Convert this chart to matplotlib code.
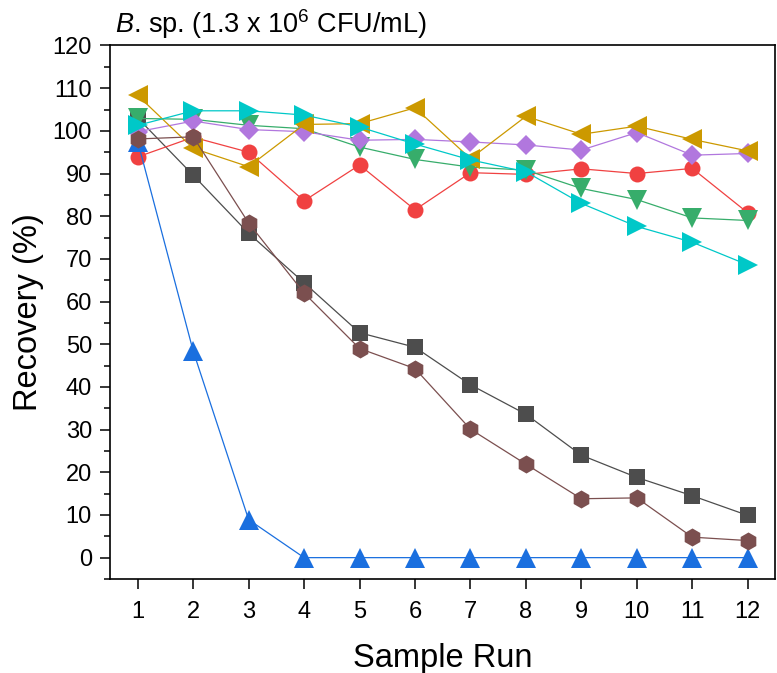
import matplotlib
matplotlib.use('Agg')
import matplotlib.pyplot as plt
import numpy as np

plt.rcParams['font.family'] = ['Liberation Sans', 'DejaVu Sans']
plt.rcParams['mathtext.fontset'] = 'custom'
plt.rcParams['mathtext.rm'] = 'Liberation Sans'
plt.rcParams['mathtext.it'] = 'Liberation Sans:italic'

# 데이터
runs = np.arange(1, 13)
s_square = [103.0, 89.6, 76.0, 64.4, 52.7, 49.3, 40.5, 33.6, 24.0, 18.8, 14.5, 9.9]
s_circle = [93.9, 98.5, 95.0, 83.6, 92.0, 81.5, 90.2, 89.8, 91.1, 90.0, 91.2, 80.8]
s_up = [97.5, 48.4, 8.9, 0, 0, 0, 0, 0, 0, 0, 0, 0]
s_down = [102.9, 102.7, 101.3, 100.5, 96.2, 93.3, 91.5, 90.8, 86.5, 83.9, 79.6, 79.0]
s_diamond = [99.8, 102.3, 100.3, 99.8, 97.8, 98.0, 97.4, 96.7, 95.5, 99.6, 94.3, 94.7]
s_left = [108.3, 95.9, 91.6, 101.5, 101.7, 105.4, 93.5, 103.4, 99.2, 101.1, 98.0, 95.3]
s_right = [101.3, 104.7, 104.7, 103.7, 100.9, 96.9, 93.2, 90.4, 83.0, 77.6, 73.9, 68.6]
s_hex = [98.1, 98.6, 78.4, 62.0, 49.0, 44.3, 30.1, 21.9, 13.8, 14.0, 4.8, 4.0]

series = [
    (s_square, 's', '#4d4d4d', 11),
    (s_circle, 'o', '#f04141', 11.5),
    (s_up, '^', '#1a6fdf', 14),
    (s_down, 'v', '#37ad6b', 14),
    (s_diamond, 'D', '#b177de', 10.5),
    (s_left, '<', '#cc9900', 14),
    (s_right, '>', '#00c8c8', 14),
    (s_hex, 'h', '#7b4f4f', 13),
]

fig = plt.figure(figsize=(7.77, 6.73), dpi=100)
ax = fig.add_axes([0.1416, 0.1397, 0.998 - 0.1416, 0.9324 - 0.1397])

for vals, mk, col, ms in series:
    ax.plot(runs, vals, marker=mk, color=col, markersize=ms, markeredgewidth=0,
            linewidth=0.9)

ax.set_xlim(0.5, 12.5)
ax.set_ylim(-5, 120)
ax.set_xticks(runs)
ax.set_yticks(np.arange(0, 121, 10))
ax.set_yticks(np.arange(-5, 120, 5), minor=True)

for sp in ax.spines.values():
    sp.set_linewidth(1.2)
ax.tick_params(axis='both', which='major', direction='out', length=7, width=1.1,
               labelsize=17)
ax.tick_params(axis='x', which='major', pad=9)
ax.tick_params(axis='y', which='major', pad=6)
ax.tick_params(axis='y', which='minor', direction='out', length=4, width=1.1)
ax.tick_params(axis='x', which='minor', bottom=False)

ax.set_xlabel('Sample Run', fontsize=23.5, labelpad=14)
ax.set_ylabel('Recovery (%)', fontsize=23.5, labelpad=6)
ax.text(0.007, 1.024, r'$\it{B}$. sp. (1.3 x 10$^{6}$ CFU/mL)', transform=ax.transAxes,
        ha='left', va='baseline', fontsize=19.5)

fig.savefig('out.png', dpi=100)
